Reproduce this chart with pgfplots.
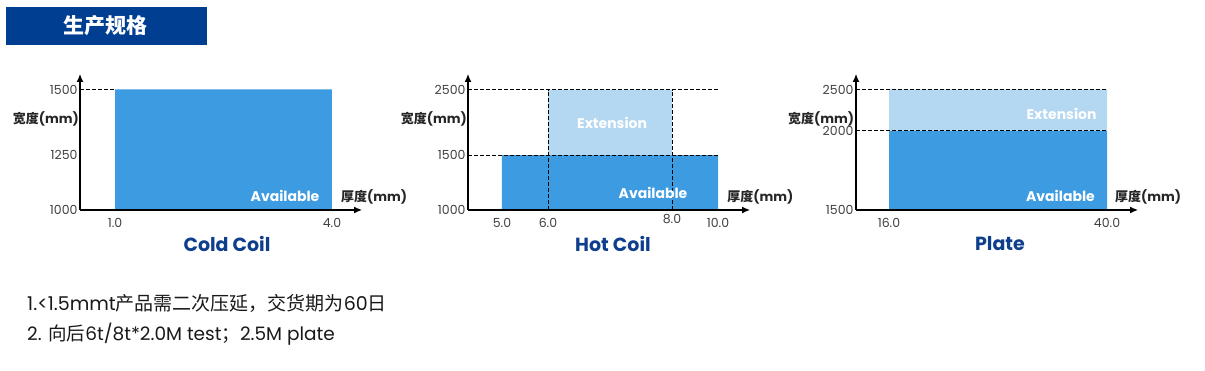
\documentclass[border=0pt]{standalone}
\usepackage{fontspec}
\setmainfont{Poppins}
\newfontfamily\cjk{Noto Sans CJK SC}
\usepackage{pgfplots}
\pgfplotsset{compat=1.18}
\usetikzlibrary{arrows.meta}
\definecolor{avail}{RGB}{61,155,225}
\definecolor{ext}{RGB}{180,215,242}
\definecolor{hdr}{RGB}{0,62,145}
\definecolor{ttl}{RGB}{14,62,140}
\definecolor{tickc}{RGB}{64,64,64}
\tikzset{
  axarrow/.style={-{Latex[length=8pt,width=7pt]}},
  dshline/.style={black, line width=0.8pt, dash pattern=on 3.5pt off 2.5pt},
  lab/.style={font=\bfseries\fontsize{14}{14}\selectfont, text=white},
  wlab/.style={font=\fontsize{13}{13}\selectfont\bfseries, text=black!85},
}
\pgfplotsset{
  spec/.style={
    scale only axis, width=282pt, height=136pt,
    axis lines=left,
    axis line style={line width=1.2pt, black},
    every outer x axis line/.append style={axarrow},
    every outer y axis line/.append style={axarrow},
    every inner x axis line/.append style={axarrow},
    every inner y axis line/.append style={axarrow},
    major tick length=0pt,
    ticklabel style={font=\fontsize{12.5}{12.5}\selectfont, text=tickc},
    yticklabel style={xshift=1pt},
    xticklabel style={yshift=-5pt},
    /pgf/number format/assume math mode=true,
    clip=false,
    anchor=south west,
    axis on top,
  },
}
\begin{document}
\begin{tikzpicture}
\path[use as bounding box] (0,0) rectangle (1205pt,371pt);
% header
\fill[hdr] (6pt,326pt) rectangle (207pt,364pt);
\node[text=white, font=\cjk\bfseries\fontsize{21}{21}\selectfont] at (105pt,345.5pt) {生产规格};

% Cold Coil
\begin{axis}[spec, at={(80pt,161pt)},
  y coord trafo/.code={\pgfmathparse{0.22*(min(#1,1250)-1000)+0.262*(max(#1,1250)-1250)}},
  xmin=0.516, xmax=4.415, ymin=1000, ymax=1559,
  xtick={1,4}, xticklabels={1.0,4.0},
  ytick={1000,1250,1500}, yticklabels={1000,1250,1500}]
\addplot[fill=avail, draw=none] coordinates {(1,1000) (4,1000) (4,1500) (1,1500) (1,1000)};
\addplot[dshline] coordinates {(0.516,1500) (1,1500)};
\node[lab] at (rel axis cs:0.727,0.103) {Available};
\node[wlab] at (rel axis cs:1.043,0.096) {{\cjk\bfseries 厚度}(mm)};
\node[wlab] at (rel axis cs:-0.121,0.669) {{\cjk\bfseries 宽度}(mm)};
\end{axis}

% Hot Coil
\begin{axis}[spec, at={(468pt,161pt)},
  x coord trafo/.code={\pgfmathparse{34+46*(min(#1,6)-5)+62*(max(min(#1,8),6)-6)+23*(max(#1,8)-8)}},
  y coord trafo/.code={\pgfmathparse{0.11*(min(#1,1500)-1000)+0.0655*(max(#1,1500)-1500)}},
  xmin=4.261, xmax=11.391, ymin=1000, ymax=2737,
  xtick={5,6,10}, xticklabels={5.0,6.0,10.0},
  extra x ticks={8}, extra x tick labels={8.0},
  extra x tick style={xticklabel style={yshift=4pt}},
  ytick={1000,1500,2500}, yticklabels={1000,1500,2500}]
\addplot[fill=avail, draw=none] coordinates {(5,1000) (10,1000) (10,1500) (5,1500) (5,1000)};
\addplot[fill=ext, draw=none] coordinates {(6,1500) (8,1500) (8,2500) (6,2500) (6,1500)};
\addplot[dshline] coordinates {(4.261,2500) (10,2500)};
\addplot[dshline] coordinates {(4.261,1500) (10,1500)};
\addplot[dshline] coordinates {(6,1000) (6,2500)};
\addplot[dshline] coordinates {(8,1000) (8,2500)};
\node[lab] at (rel axis cs:0.656,0.125) {Available};
\node[lab] at (rel axis cs:0.511,0.640) {Extension};
\node[wlab] at (rel axis cs:1.037,0.096) {{\cjk\bfseries 厚度}(mm)};
\node[wlab] at (rel axis cs:-0.121,0.669) {{\cjk\bfseries 宽度}(mm)};
\end{axis}

% Plate
\begin{axis}[spec, at={(856pt,161pt)},
  y coord trafo/.code={\pgfmathparse{0.1586*(min(#1,2000)-1500)+0.0824*(max(#1,2000)-2000)}},
  xmin=12.367, xmax=43.41, ymin=1500, ymax=2688,
  xtick={16,40}, xticklabels={16.0,40.0},
  ytick={1500,2000,2500}, yticklabels={1500,2000,2500}]
\addplot[fill=avail, draw=none] coordinates {(16,1500) (40,1500) (40,2000) (16,2000) (16,1500)};
\addplot[fill=ext, draw=none] coordinates {(16,2000) (40,2000) (40,2500) (16,2500) (16,2000)};
\addplot[dshline] coordinates {(12.367,2500) (40,2500)};
\addplot[dshline] coordinates {(12.367,2000) (40,2000)};
\node[lab] at (rel axis cs:0.729,0.706) {Extension};
\node[lab] at (rel axis cs:0.725,0.103) {Available};
\node[wlab] at (rel axis cs:1.036,0.096) {{\cjk\bfseries 厚度}(mm)};
\node[wlab] at (rel axis cs:-0.124,0.669) {{\cjk\bfseries 宽度}(mm)};
\end{axis}

% titles
\node[font=\bfseries\fontsize{19}{19}\selectfont, text=ttl] at (227pt,127pt) {Cold Coil};
\node[font=\bfseries\fontsize{19}{19}\selectfont, text=ttl] at (613pt,127pt) {Hot Coil};
\node[font=\bfseries\fontsize{19}{19}\selectfont, text=ttl] at (1000pt,127pt) {Plate};

% notes
\node[anchor=west, inner sep=0pt, font=\fontsize{19}{19}\selectfont, text=black!90] at (27pt,68pt) {1.<1.5mmt{\cjk 产品需二次压延，交货期为}60{\cjk 日}};
\node[anchor=west, inner sep=0pt, font=\fontsize{18.5}{18.5}\selectfont, text=black!90] at (27pt,37pt) {2. {\cjk 向后}6t/8t*2.0M test{\cjk ；}2.5M plate};
\end{tikzpicture}
\end{document}
